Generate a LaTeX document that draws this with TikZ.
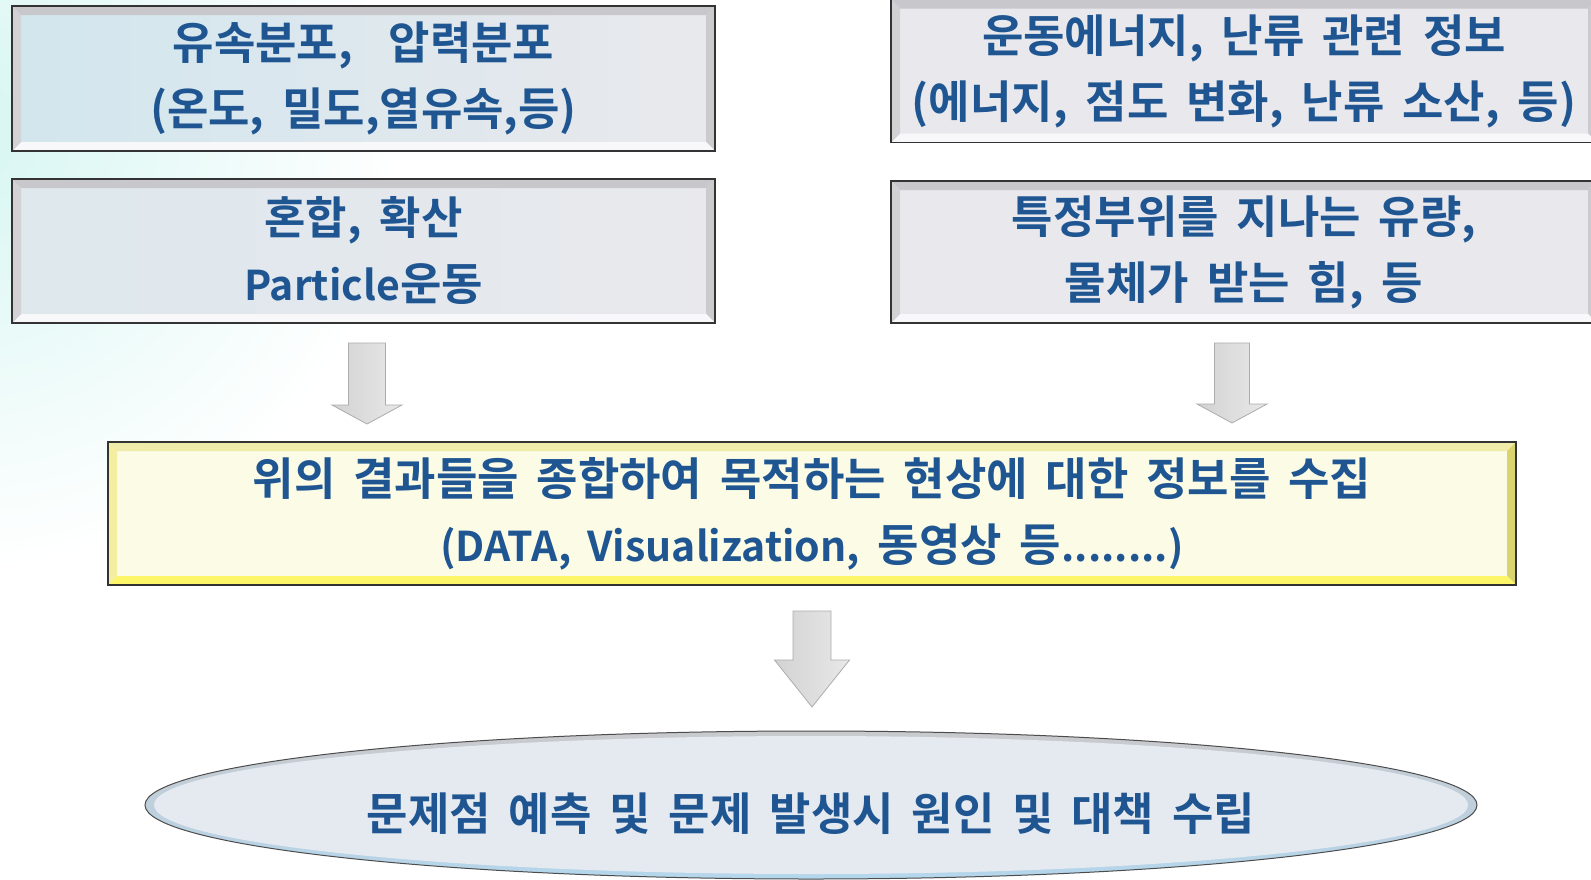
\documentclass[tikz,border=0pt]{standalone}
\usepackage{fontspec}
\setmainfont{Noto Sans CJK KR}[BoldFont={Noto Sans CJK KR Bold}, WordSpace=1.75]
\usetikzlibrary{shapes.geometric}
\definecolor{txt}{RGB}{31,86,146}
\definecolor{bgcyan}{RGB}{214,246,242}
\definecolor{boxfill}{RGB}{233,233,237}
\definecolor{boxtint}{RGB}{210,230,238}
\definecolor{yfill}{RGB}{251,251,230}
\definecolor{ellblue}{RGB}{180,214,236}
\definecolor{ellin}{RGB}{229,234,240}
\newcommand\lat[1]{{\fontsize{41}{66}\selectfont #1}}
\newcommand\bevelpp[5]{% width, top, right, bottom, left
 \coordinate (bnw) at (path picture bounding box.north west);
 \coordinate (bne) at (path picture bounding box.north east);
 \coordinate (bse) at (path picture bounding box.south east);
 \coordinate (bsw) at (path picture bounding box.south west);
 \fill[#2] (bnw) -- (bne) -- ([xshift=-#1,yshift=-#1]bne) -- ([xshift=#1,yshift=-#1]bnw) -- cycle;
 \fill[#3] (bne) -- (bse) -- ([xshift=-#1,yshift=#1]bse) -- ([xshift=-#1,yshift=-#1]bne) -- cycle;
 \fill[#4] (bse) -- (bsw) -- ([xshift=#1,yshift=#1]bsw) -- ([xshift=-#1,yshift=#1]bse) -- cycle;
 \fill[#5] (bsw) -- (bnw) -- ([xshift=#1,yshift=-#1]bnw) -- ([xshift=#1,yshift=#1]bsw) -- cycle;
}
\newcommand\blockarrow[6]{% cx, top, headstart, tip, shafthalf, headhalf
 \shade[left color=gray!35, middle color=white, right color=gray!18, draw=gray!65, line width=0.8pt]
 (#1-#5,#2) -- (#1+#5,#2) -- (#1+#5,#3) -- (#1+#6,#3) -- (#1,#4) -- (#1-#6,#3) -- (#1-#5,#3) -- cycle;}
\tikzset{
 kr/.style={font=\bfseries\fontsize{45}{66}\selectfont, text=txt, align=center},
 graybox/.style={rectangle, inner sep=0pt, draw=black!80, line width=1.3pt, fill=boxfill, kr,
   path picture={\bevelpp{9pt}{black!14!boxfill}{black!13!boxfill}{white!70!boxfill}{black!10!boxfill}}},
 yellowbox/.style={rectangle, inner sep=0pt, draw=black!80, line width=1.3pt, fill=yfill, kr,
   path picture={\bevelpp{9pt}{yellow!25!yfill!94!black}{yellow!55!yfill!84!black}{yellow!55!yfill}{yellow!30!yfill!96!black}}},
}
\begin{document}
\begin{tikzpicture}[x=1pt,y=-1pt]
\useasboundingbox (0,0) rectangle (1591,879);
\clip (0,0) rectangle (1591,879);
\fill[white] (0,0) rectangle (1591,879);
\shade[inner color=bgcyan, outer color=white] (-40,130) circle (440pt);
% boxes
\node[graybox, left color=boxtint, right color=boxfill, minimum width=703pt, minimum height=145pt] (L1) at (363.5,78.5) {유속분포,~~압력분포\\(온도, 밀도,열유속,등)};
\node[graybox, left color=boxtint!50!boxfill, right color=boxfill, minimum width=703pt, minimum height=144pt] (L2) at (363.5,251) {혼합, 확산\\\lat{Particle}운동};
\node[graybox, minimum width=706pt, minimum height=143pt] (R1) at (1244,71) {운동에너지, 난류 관련 정보\\(에너지, 점도 변화, 난류 소산, 등)};
\node[graybox, minimum width=706pt, minimum height=142pt] (R2) at (1244,252) {특정부위를 지나는 유량,\\물체가 받는 힘, 등};
\node[yellowbox, minimum width=1408pt, minimum height=143pt] (Y) at (812,513.5) {위의 결과들을 종합하여 목적하는 현상에 대한 정보를 수집\\\lat{(DATA, Visualization,} 동영상 등\lat{........)}};
% ellipse
\node[ellipse, inner sep=0pt, draw=black!70, line width=1pt, top color=gray!30!boxfill, bottom color=ellblue,
  minimum width=1332pt, minimum height=148pt,
  path picture={\fill[ellin] (path picture bounding box.center) ellipse [x radius=657pt, y radius=69pt];}] (G) at (811,805) {};
\node[kr, anchor=center] (Gt) at (811,814) {문제점 예측 및 문제 발생시 원인 및 대책 수립};
% arrows
\blockarrow{367}{343}{405}{424}{18.5}{35}
\blockarrow{1232}{343}{404}{423}{17.5}{35}
\blockarrow{812}{611}{660}{707}{19}{37.5}
\end{tikzpicture}
\end{document}
